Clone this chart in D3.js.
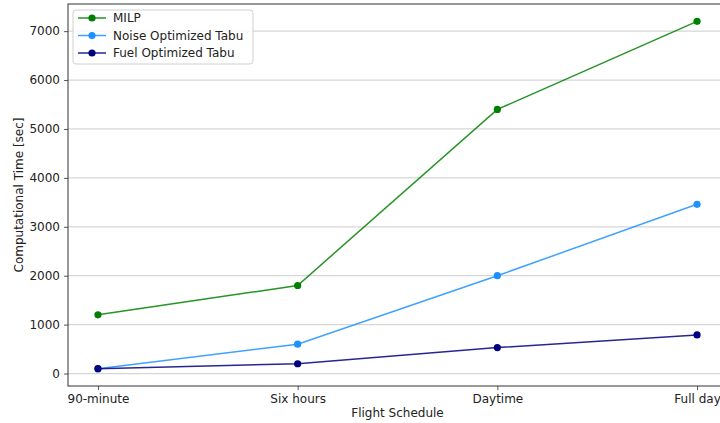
<!DOCTYPE html>
<html>
<head>
<meta charset="utf-8">
<script src="https://cdn.jsdelivr.net/npm/d3@7"></script>
<style>
  html, body { margin: 0; padding: 0; background: #fff; }
  svg { display: block; font-family: "DejaVu Sans", sans-serif; }
</style>
</head>
<body>
<svg id="chart" width="720" height="423"></svg>
<script>
// Flight schedule categories and computational times (seconds)
const schedules = ["90-minute", "Six hours", "Daytime", "Full day"];
const milpTimes = [1200, 1800, 5400, 7200];
const noiseTabuTimes = [100, 600, 2000, 3460];
const fuelTabuTimes = [100, 200, 530, 790];
const yTicks = [0, 1000, 2000, 3000, 4000, 5000, 6000, 7000];

const series = [
  { name: "MILP", values: milpTimes, color: "#008000" },
  { name: "Noise Optimized Tabu", values: noiseTabuTimes, color: "#1e90ff" },
  { name: "Fuel Optimized Tabu", values: fuelTabuTimes, color: "#000080" }
];

const svg = d3.select("#chart");
const plot = { left: 68, right: 727, top: 4, bottom: 386 };

// Categorical positions with a 5% margin on each side
const x = d3.scaleLinear()
  .domain([-0.15, schedules.length - 1 + 0.15])
  .range([plot.left, plot.right]);

const allVals = series.flatMap(s => s.values);
const vMin = d3.min(allVals), vMax = d3.max(allVals);
const pad = (vMax - vMin) * 0.05;
const y = d3.scaleLinear()
  .domain([vMin - pad, vMax + pad])
  .range([plot.bottom, plot.top]);

// Horizontal grid lines
svg.append("g")
  .selectAll("line")
  .data(yTicks)
  .join("line")
  .attr("x1", plot.left).attr("x2", plot.right)
  .attr("y1", d => y(d)).attr("y2", d => y(d))
  .attr("stroke", "#d6d6d6")
  .attr("stroke-width", 1.3);

// Y axis
const yAxis = svg.append("g")
  .attr("transform", `translate(${plot.left},0)`)
  .call(d3.axisLeft(y).tickValues(yTicks).tickSize(4).tickPadding(4).tickFormat(d3.format("d")));
yAxis.select(".domain").remove();
yAxis.selectAll(".tick line").attr("stroke", "#444").attr("stroke-width", 0.9);
yAxis.selectAll(".tick text").attr("font-size", 12).attr("fill", "#222")
  .attr("font-family", "DejaVu Sans, sans-serif");

// X axis
const xAxis = svg.append("g")
  .attr("transform", `translate(0,${plot.bottom})`)
  .call(d3.axisBottom(x).tickValues(d3.range(schedules.length)).tickSize(4).tickPadding(4)
    .tickFormat(i => schedules[i]));
xAxis.select(".domain").remove();
xAxis.selectAll(".tick line").attr("stroke", "#444").attr("stroke-width", 0.9);
xAxis.selectAll(".tick text").attr("font-size", 12).attr("fill", "#222")
  .attr("font-family", "DejaVu Sans, sans-serif");

// Axes frame
svg.append("rect")
  .attr("x", plot.left).attr("y", plot.top)
  .attr("width", plot.right - plot.left).attr("height", plot.bottom - plot.top)
  .attr("fill", "none").attr("stroke", "#333").attr("stroke-width", 1);

// Axis titles
svg.append("text")
  .attr("x", (plot.left + plot.right) / 2).attr("y", 417)
  .attr("text-anchor", "middle").attr("font-size", 12).attr("fill", "#222")
  .text("Flight Schedule");
svg.append("text")
  .attr("transform", `translate(23,${(plot.top + plot.bottom) / 2}) rotate(-90)`)
  .attr("text-anchor", "middle").attr("font-size", 12).attr("fill", "#222")
  .text("Computational Time [sec]");

// Lines and markers
const line = d3.line().x((d, i) => x(i)).y(d => y(d));
const sg = svg.append("g").selectAll("g").data(series).join("g");
sg.append("path")
  .attr("d", d => line(d.values))
  .attr("fill", "none")
  .attr("stroke", d => d.color)
  .attr("stroke-opacity", 0.85)
  .attr("stroke-width", 1.5);
sg.selectAll("circle")
  .data(d => d.values.map(v => ({ v, color: d.color })))
  .join("circle")
  .attr("cx", (d, i) => x(i)).attr("cy", d => y(d.v))
  .attr("r", 3.6)
  .attr("fill", d => d.color);

// Legend
const lg = svg.append("g").attr("transform", "translate(73,10)");
lg.append("rect")
  .attr("width", 180).attr("height", 54).attr("rx", 3)
  .attr("fill", "#fff").attr("fill-opacity", 0.8)
  .attr("stroke", "#d0d0d0").attr("stroke-width", 1);
const items = lg.selectAll("g.item").data(series).join("g")
  .attr("class", "item")
  .attr("transform", (d, i) => `translate(0,${8 + i * 17.5})`);
items.append("line")
  .attr("x1", 5).attr("x2", 33).attr("y1", 0).attr("y2", 0)
  .attr("stroke", d => d.color).attr("stroke-opacity", 0.85).attr("stroke-width", 1.5);
items.append("circle")
  .attr("cx", 19).attr("cy", 0).attr("r", 3.6)
  .attr("fill", d => d.color);
items.append("text")
  .attr("x", 40).attr("y", 4.3)
  .attr("font-size", 12).attr("fill", "#222")
  .text(d => d.name);
</script>
</body>
</html>
